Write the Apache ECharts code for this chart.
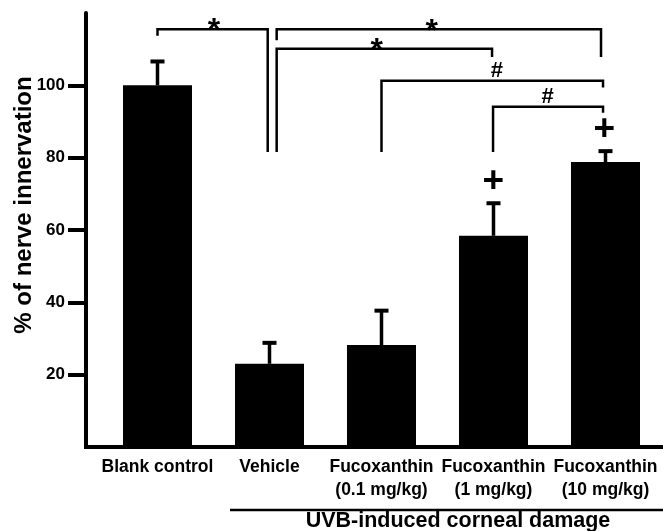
<!DOCTYPE html>
<html>
<head>
<meta charset="utf-8">
<script src="https://cdn.jsdelivr.net/npm/echarts@6/dist/echarts.min.js"></script>
<style>
html,body{margin:0;padding:0;background:#fff;}
#chart{width:663px;height:531px;}
</style>
</head>
<body>
<div id="chart"></div>
<script>
// ---- data ----
const categories = ['Blank control', 'Vehicle', 'Fucoxanthin\n(0.1 mg/kg)', 'Fucoxanthin\n(1 mg/kg)', 'Fucoxanthin\n(10 mg/kg)'];
const means = [100, 23.0, 28.2, 58.4, 78.8];
const errors = [6.6, 5.8, 9.5, 9.0, 3.0];
const yTicks = [20, 40, 60, 80, 100];
const xTicks = [0, 1, 2, 3, 4];

// ---- significance annotations (data coordinates) ----
const brackets = [
  { path: [[0, 113.7], [0, 115.5], [0.984, 115.5], [0.984, 81.6]], mark: '*', at: [0.504, 117.2] },
  { path: [[1.064, 112.5], [1.064, 115.5], [3.96, 115.5], [3.96, 107.8]], mark: '*', at: [2.448, 116.9] },
  { path: [[1.064, 81.6], [1.064, 110.1], [2.987, 110.1], [2.987, 107.8]], mark: '*', at: [1.957, 111.6] },
  { path: [[2.0, 81.6], [2.0, 101.3], [3.978, 101.3], [3.978, 99.4]], mark: '#', at: [3.029, 104.0] },
  { path: [[2.996, 81.6], [2.996, 94.1], [3.978, 94.1], [3.978, 92.4]], mark: '#', at: [3.484, 96.7] }
];
const pluses = [[2.998, 73.3], [3.989, 87.6]];

const FONT = "'Liberation Sans', Arial, Helvetica, sans-serif";

const chart = echarts.init(document.getElementById('chart'), null, { renderer: 'canvas' });

const option = {
  animation: false,
  backgroundColor: '#fff',
  grid: { left: 86, right: 0, top: 13, bottom: 84, containLabel: false, outerBoundsMode: 'none' },
  xAxis: {
    type: 'value',
    min: -0.6384,
    max: 4.5134,
    splitLine: { show: false },
    axisTick: { show: false },
    axisLine: { show: true, onZero: false, lineStyle: { color: '#000', width: 4, cap: 'square' } },
    axisLabel: {
      customValues: xTicks,
      formatter: function (v) { return categories[Math.round(v)]; },
      color: '#000',
      fontFamily: FONT,
      fontWeight: 'bold',
      fontSize: 17.5,
      lineHeight: 23,
      margin: 9,
      align: 'center'
    }
  },
  yAxis: {
    type: 'value',
    min: 0,
    max: 120,
    interval: 20,
    splitLine: { show: false },
    axisLine: { show: true, onZero: false, lineStyle: { color: '#000', width: 4 } },
    axisTick: { show: true, customValues: yTicks, length: 18, lineStyle: { color: '#000', width: 4 } },
    axisLabel: {
      customValues: yTicks,
      color: '#000',
      fontFamily: FONT,
      fontWeight: 'bold',
      fontSize: 17,
      margin: 21
    },
    name: '% of nerve innervation',
    nameLocation: 'middle',
    nameRotate: 90,
    nameGap: 50,
    nameMoveOverlap: false,
    nameTextStyle: {
      color: '#000',
      fontFamily: FONT,
      fontWeight: 'bold',
      fontSize: 24,
      padding: [0, 0, 0, 50]
    }
  },
  series: [
    {
      type: 'bar',
      data: means.map((m, i) => [xTicks[i], m]),
      barWidth: 69,
      itemStyle: { color: '#000' },
      silent: true
    },
    {
      type: 'custom',
      data: means.map((m, i) => [xTicks[i], m, errors[i]]),
      clip: false,
      silent: true,
      z: 3,
      renderItem: function (params, api) {
        const x = api.value(0), m = api.value(1), e = api.value(2);
        const p0 = api.coord([x, m]);
        const p1 = api.coord([x, m + e]);
        return {
          type: 'group',
          children: [
            { type: 'line', shape: { x1: p0[0], y1: p0[1], x2: p1[0], y2: p1[1] }, style: { stroke: '#000', lineWidth: 3.5 } },
            { type: 'rect', shape: { x: p1[0] - 7, y: p1[1] - 2, width: 14, height: 4 }, style: { fill: '#000' } }
          ]
        };
      }
    },
    {
      type: 'custom',
      data: brackets.map((b, i) => [i]),
      encode: { x: 0 },
      clip: false,
      silent: true,
      z: 4,
      renderItem: function (params, api) {
        const b = brackets[params.dataIndex];
        const pts = b.path.map(p => api.coord(p));
        const at = api.coord(b.at);
        const isStar = b.mark === '*';
        return {
          type: 'group',
          children: [
            { type: 'polyline', shape: { points: pts }, style: { stroke: '#000', lineWidth: 2.5, fill: null } },
            {
              type: 'text', x: at[0], y: at[1] + (isStar ? 8 : 0),
              style: { text: b.mark, fill: '#000', fontFamily: FONT, fontWeight: 'bold', fontSize: isStar ? 32 : 22, align: 'center', verticalAlign: 'middle' }
            }
          ]
        };
      }
    },
    {
      type: 'custom',
      data: pluses.map((p, i) => [i]),
      encode: { x: 0 },
      clip: false,
      silent: true,
      z: 4,
      renderItem: function (params, api) {
        const at = api.coord(pluses[params.dataIndex]);
        return {
          type: 'text', x: at[0], y: at[1],
          style: { text: '+', fill: '#000', fontFamily: FONT, fontWeight: 'bold', fontSize: 37, align: 'center', verticalAlign: 'middle' }
        };
      }
    }
  ],
  graphic: [
    { type: 'line', shape: { x1: 230, y1: 510, x2: 663, y2: 510 }, style: { stroke: '#000', lineWidth: 2.5 }, silent: true },
    {
      type: 'text', x: 458, y: 521,
      style: { text: 'UVB-induced corneal damage', fill: '#000', fontFamily: FONT, fontWeight: 'bold', fontSize: 21.5, align: 'center', verticalAlign: 'middle' },
      silent: true
    }
  ]
};

chart.setOption(option);
</script>
</body>
</html>
